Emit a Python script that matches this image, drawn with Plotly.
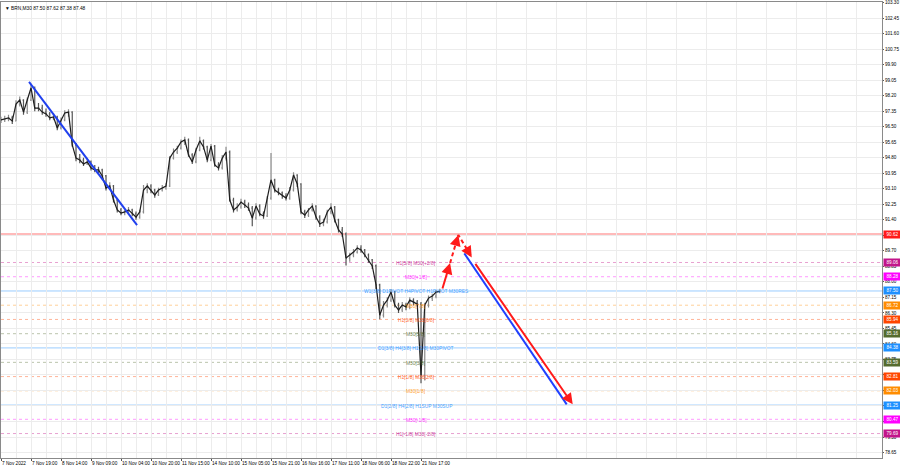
import plotly.graph_objects as go

# ---------------- data ----------------
# time axis: M30 bars, labels every 32 bars
time_labels = ["7 Nov 2022", "7 Nov 19:00", "8 Nov 14:00", "9 Nov 09:00", "10 Nov 04:00",
               "10 Nov 20:00", "11 Nov 15:00", "14 Nov 10:00", "15 Nov 05:00", "15 Nov 21:00",
               "16 Nov 16:00", "17 Nov 11:00", "18 Nov 06:00", "18 Nov 22:00", "21 Nov 17:00"]
time_label_bars = [0, 32, 64, 96, 128, 160, 192, 224, 256, 288, 320, 352, 384, 416, 448]

# price scale labels
price_ticks = [103.30, 102.45, 101.60, 100.75, 99.90, 99.05, 98.20, 97.35, 96.50, 95.65,
               94.80, 93.95, 93.10, 92.25, 91.40, 90.55, 89.70, 88.85, 88.00, 87.15,
               86.30, 85.45, 84.60, 83.75, 82.90, 82.05, 81.20, 80.35, 79.50, 78.65]

# price history (2-hour bars, bar index of the M30 axis)
bar_index = list(range(0, 469, 4))
closes = [96.87, 96.92, 96.98, 96.81, 97.74, 97.96, 97.30, 97.96, 98.62, 97.52,
          97.52, 97.30, 97.20, 96.98, 97.03, 96.43, 96.87, 97.25, 97.30, 95.50,
          94.78, 94.67, 94.46, 94.57, 94.24, 94.13, 94.13, 93.80, 93.14, 93.25,
          92.48, 91.94, 91.77, 91.83, 91.94, 91.72, 91.55, 91.83, 93.03, 93.25,
          93.03, 92.76, 93.03, 93.14, 93.25, 94.78, 95.11, 95.33, 95.66, 95.77,
          94.95, 94.57, 95.22, 95.72, 95.39, 94.67, 95.44, 94.40, 94.24, 94.78,
          95.11, 92.48, 91.94, 92.10, 92.37, 92.21, 92.04, 91.50, 92.15, 91.72,
          91.61, 92.59, 93.58, 93.03, 92.87, 92.70, 92.59, 93.03, 93.85, 93.36,
          91.83, 91.66, 91.94, 92.15, 91.55, 91.17, 91.28, 91.83, 92.10, 91.39,
          90.84, 90.62, 89.30, 89.47, 89.63, 89.85, 89.74, 89.47, 89.20, 88.87,
          87.83, 86.18, 86.73, 87.00, 87.44, 86.73, 86.46, 86.73, 86.62, 87.00,
          86.89, 86.78, 82.89, 86.73, 87.11, 87.22, 87.44, 87.48]
highs = [97.05, 97.10, 97.15, 97.10, 97.95, 98.15, 98.00, 98.10, 98.85, 98.70,
         97.80, 97.70, 97.50, 97.30, 97.25, 97.10, 97.00, 97.40, 97.45, 97.35,
         95.60, 95.00, 94.80, 94.80, 94.65, 94.40, 94.30, 94.20, 93.85, 93.45,
         93.30, 92.55, 92.05, 91.95, 92.10, 92.00, 91.85, 91.95, 93.30, 93.40,
         93.35, 93.10, 93.15, 93.30, 93.40, 94.90, 95.30, 95.45, 95.80, 95.95,
         95.85, 95.05, 95.35, 95.95, 95.80, 95.45, 95.55, 95.50, 94.55, 94.95,
         95.40, 95.20, 92.60, 92.30, 92.55, 92.50, 92.35, 92.15, 92.30, 92.25,
         91.85, 92.70, 95.06, 93.65, 93.15, 92.95, 92.85, 93.20, 94.00, 93.90,
         93.40, 91.95, 92.05, 92.30, 92.20, 91.65, 91.45, 91.95, 92.30, 92.15,
         91.45, 91.00, 90.70, 89.60, 89.80, 90.00, 90.00, 89.80, 89.55, 89.25,
         88.95, 87.90, 86.95, 87.15, 87.60, 87.50, 86.85, 86.90, 86.85, 87.15,
         87.10, 87.00, 86.90, 86.85, 87.25, 87.35, 87.55, 87.62]
lows = [96.70, 96.75, 96.80, 96.65, 96.80, 97.60, 97.15, 97.20, 97.90, 97.35,
        97.35, 97.15, 97.05, 96.85, 96.85, 96.30, 96.35, 96.80, 97.05, 95.40,
        94.60, 94.50, 94.35, 94.40, 94.10, 94.00, 93.95, 93.70, 93.00, 93.05,
        92.35, 91.80, 91.65, 91.65, 91.75, 91.60, 91.40, 91.45, 91.75, 92.85,
        92.85, 92.60, 92.70, 92.95, 93.05, 93.20, 94.70, 95.00, 95.25, 95.50,
        94.85, 94.45, 94.50, 95.15, 95.25, 94.55, 94.60, 94.30, 94.10, 94.15,
        94.65, 92.40, 91.80, 91.85, 92.00, 92.05, 91.90, 91.05, 91.40, 91.60,
        91.45, 91.55, 92.50, 92.90, 92.75, 92.55, 92.45, 92.50, 92.95, 93.20,
        91.70, 91.50, 91.55, 91.85, 91.40, 91.00, 91.05, 91.20, 91.70, 91.25,
        90.70, 90.45, 88.90, 89.10, 89.35, 89.55, 89.60, 89.35, 89.05, 88.70,
        87.60, 85.95, 86.05, 86.60, 86.90, 86.60, 86.30, 86.35, 86.45, 86.50,
        86.70, 86.65, 82.45, 82.60, 86.60, 86.95, 87.10, 87.38]
opens = [closes[0]] + closes[:-1]
highs = [max(h, o, c) for h, o, c in zip(highs, opens, closes)]
lows = [min(l, o, c) for l, o, c in zip(lows, opens, closes)]

# Murrey-math style levels
level_prices = [90.62, 89.06, 88.28, 87.50, 86.72, 85.94, 85.16, 84.38, 83.59, 82.81, 82.03, 81.25, 80.47, 79.69]
level_names = ["", "H1[5/8] M30[+2/8]", "M30[+1/8]", "W1[3/8] D1PIVOT H4PIVOT H1PIVOT M30RES",
               "M30[7/8]", "H1[3/8] M30[6/8]", "M30[5/8]", "D1[3/8] H4[3/8] H1[2/8] M30PIVOT",
               "M30[3/8]", "H1[1/8] M30[2/8]", "M30[1/8]", "D1[2/8] H4[2/8] H1SUP M30SUP",
               "M30[-1/8]", "H1[-1/8] M30[-2/8]"]
level_colors = ["#ff1a1a", "#c2158a", "#ff00ff", "#1e90ff", "#ff8c00", "#ff4500", "#556b2f",
                "#1e90ff", "#556b2f", "#ff4500", "#ff8c00", "#1e90ff", "#ff00ff", "#c2158a"]
level_dash = ["solid", "dot", "dot", "solid", "dot", "dot", "dot", "solid", "dot", "dot", "dot", "solid", "dot", "dot"]

# drawn trend line and forecast
trend_bars = [29.9, 145.1]
trend_prices = [98.95, 91.11]
fc_red_bars = [470.4, 479.0, 487.8, 502.1]
fc_red_prices = [87.55, 89.03, 90.57, 89.34]
fc_blue_bars = [494.2, 603.4]
fc_blue_prices = [89.56, 81.29]
fc_red2_bars = [504.9, 609.8]
fc_red2_prices = [89.07, 81.29]

title_text = "BRN,M30 87.50 87.62 87.38 87.48"

# ---------------- figure ----------------
def rgba(hexc, a):
    h = hexc.lstrip('#')
    return "rgba(%d,%d,%d,%.2f)" % (int(h[0:2], 16), int(h[2:4], 16), int(h[4:6], 16), a)

FONT = "Liberation Sans, Arial, sans-serif"
fig = go.Figure()

shapes = []
annotations = []
for p, name, col, dash in zip(level_prices, level_names, level_colors, level_dash):
    if col == "#ff1a1a":
        shapes.append(dict(type="line", xref="paper", x0=0, x1=1, y0=p, y1=p,
                           line=dict(color=rgba(col, 0.3), width=2), layer="below"))
    elif dash == "solid":
        shapes.append(dict(type="line", xref="paper", x0=0, x1=1, y0=p, y1=p,
                           line=dict(color=rgba(col, 0.45), width=1), layer="below"))
    else:
        shapes.append(dict(type="line", xref="paper", x0=0, x1=1, y0=p, y1=p,
                           line=dict(color=rgba(col, 0.4), width=1, dash="dot"), layer="below"))
    if name:
        annotations.append(dict(x=442.7, y=p, xref="x", yref="y", text=name, showarrow=False,
                                xanchor="center", yanchor="middle", yshift=-1,
                                font=dict(family=FONT, size=4.9, color=rgba(col, 0.85))))
    annotations.append(dict(x=1, y=p, xref="paper", yref="y", text="%.2f" % p, showarrow=False,
                            xanchor="left", yanchor="middle", xshift=1,
                            bgcolor=col, borderpad=1, width=15,
                            font=dict(family=FONT, size=4.6, color="white")))

# price tick labels fully hidden behind level boxes are left blank
tick_text = []
for v in price_ticks:
    hidden = any(abs(v - p) < 0.13 for p in level_prices)
    tick_text.append("" if hidden else "%.2f" % v)

fig.add_trace(go.Ohlc(
    x=bar_index, open=opens, high=highs, low=lows, close=closes,
    increasing=dict(line=dict(color="#8a8a8a", width=1.2)),
    decreasing=dict(line=dict(color="#555555", width=1.2)),
    tickwidth=0.25, showlegend=False, hoverinfo="skip"))
fig.add_trace(go.Scatter(x=bar_index, y=closes, mode="lines",
                         line=dict(color="#1e1e1e", width=1.2), showlegend=False, hoverinfo="skip"))

fig.add_trace(go.Scatter(x=trend_bars, y=trend_prices, mode="lines",
                         line=dict(color="#2040ee", width=2), showlegend=False, hoverinfo="skip"))

# forecast: red solid arrow, then dashed up/down
annotations.append(dict(x=fc_red_bars[1], y=fc_red_prices[1], ax=fc_red_bars[0], ay=fc_red_prices[0],
                        xref="x", yref="y", axref="x", ayref="y", showarrow=True, text="",
                        arrowhead=2, arrowsize=1.1, arrowwidth=2, arrowcolor="#ff1a1a"))
fig.add_trace(go.Scatter(x=fc_red_bars[1:], y=fc_red_prices[1:], mode="lines",
                         line=dict(color="#ff1a1a", width=2, dash="4px,3px"),
                         showlegend=False, hoverinfo="skip"))
for i in (2, 3):
    x0, y0 = fc_red_bars[i - 1], fc_red_prices[i - 1]
    x1, y1 = fc_red_bars[i], fc_red_prices[i]
    annotations.append(dict(x=x1, y=y1, ax=x1 - (x1 - x0) * 0.3, ay=y1 - (y1 - y0) * 0.3,
                            xref="x", yref="y", axref="x", ayref="y", showarrow=True, text="",
                            arrowhead=2, arrowsize=1.1, arrowwidth=2, arrowcolor="#ff1a1a"))

fig.add_trace(go.Scatter(x=fc_blue_bars, y=fc_blue_prices, mode="lines",
                         line=dict(color="#2040ff", width=2), showlegend=False, hoverinfo="skip"))
annotations.append(dict(x=fc_red2_bars[1], y=fc_red2_prices[1], ax=fc_red2_bars[0], ay=fc_red2_prices[0],
                        xref="x", yref="y", axref="x", ayref="y", showarrow=True, text="",
                        arrowhead=2, arrowsize=1.1, arrowwidth=2, arrowcolor="#ff1a1a"))

annotations.append(dict(x=0.002, y=1, xref="paper", yref="paper", text="▼ " + title_text,
                        showarrow=False, xanchor="left", yanchor="top", yshift=-2,
                        font=dict(family=FONT, size=4.8, color="#000000")))

fig.update_layout(
    width=900, height=468,
    margin=dict(l=1, r=18, t=2, b=10),
    paper_bgcolor="white", plot_bgcolor="white",
    shapes=shapes, annotations=annotations,
    showlegend=False,
    xaxis=dict(range=[0, 939.7], tickmode="array", tickvals=time_label_bars, ticktext=time_labels,
               tickangle=0, ticklabeloverflow="allow",
               ticklabelposition="outside right", ticks="outside", ticklen=2, tickcolor="#555",
               tickfont=dict(family=FONT, size=4.7, color="#000"),
               showgrid=True, gridcolor="#ececec", gridwidth=1,
               minor=dict(tickmode="linear", tick0=16, dtick=32, showgrid=True, gridcolor="#ececec"),
               showline=True, linecolor="#8a8a8a", linewidth=1, mirror=True,
               zeroline=False, rangeslider=dict(visible=False), automargin=False, fixedrange=True),
    yaxis=dict(range=[78.35, 103.33], side="right", tickmode="array", tickvals=price_ticks,
               ticktext=tick_text, ticks="outside", ticklen=1, tickcolor="#555",
               ticklabeloverflow="allow",
               tickfont=dict(family=FONT, size=4.6, color="#000"),
               showgrid=True, gridcolor="#ececec", gridwidth=1,
               showline=True, linecolor="#8a8a8a", linewidth=1, mirror=True,
               zeroline=False, automargin=False, fixedrange=True),
)

fig.write_html("out.html", config={"displayModeBar": False})

# remove the browser's default page margin so the 900x468 figure fills the window
with open("out.html", "r", encoding="utf-8") as f:
    html = f.read()
html = html.replace("<head>", "<head><style>html,body{margin:0;padding:0;overflow:hidden;}</style>", 1)
with open("out.html", "w", encoding="utf-8") as f:
    f.write(html)
